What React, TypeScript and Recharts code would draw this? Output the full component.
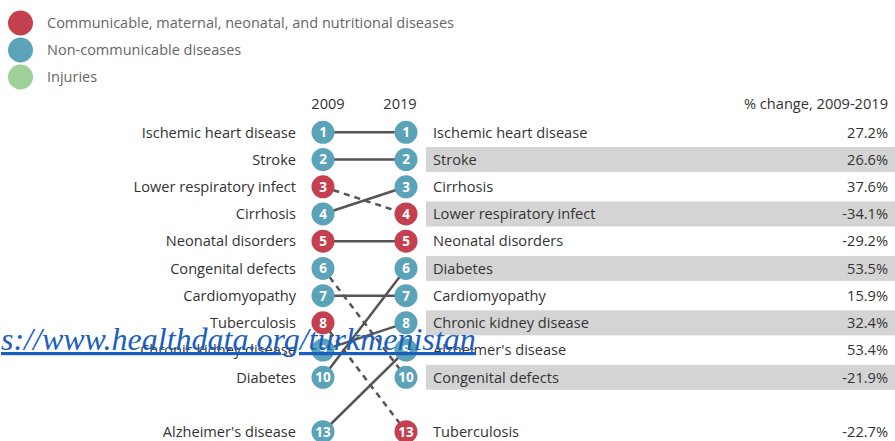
import { Legend, Scatter, ScatterChart, XAxis, YAxis } from "recharts";

// causes listed in 2009 rank order
const causes = [
	"Ischemic heart disease",
	"Stroke",
	"Lower respiratory infect",
	"Cirrhosis",
	"Neonatal disorders",
	"Congenital defects",
	"Cardiomyopathy",
	"Tuberculosis",
	"Chronic kidney disease",
	"Diabetes",
	"Alzheimer's disease",
];
const rank2009 = [1, 2, 3, 4, 5, 6, 7, 8, 9, 10, 13];
const rank2019 = [1, 2, 4, 3, 5, 10, 7, 13, 8, 6, 9];
const causeGroup = ["ncd", "ncd", "cmnn", "ncd", "cmnn", "ncd", "ncd", "cmnn", "ncd", "ncd", "ncd"];
const pctChange = [27.2, 26.6, -34.1, 37.6, -29.2, -21.9, 15.9, -22.7, 32.4, 53.5, 53.4];

const groups = ["cmnn", "ncd", "inj"];
const groupLabels = [
	"Communicable, maternal, neonatal, and nutritional diseases",
	"Non-communicable diseases",
	"Injuries",
];
const years = ["2009", "2019"];
const changeTitle = "% change, 2009-2019";
const linkText = "s://www.healthdata.org/turkmenistan";

const COLORS: Record<string, string> = { cmnn: "#c5404e", ncd: "#5ba3b8", inj: "#9fd09a" };
const W = 895;
const H = 441;
const X2009 = 323;
const X2019 = 406;
const ROW0 = 105.1;
const ROW_H = 27.22;
const FONT = "'Open Sans', sans-serif";
const FS = 14.6;

// ranks past 10 are shown after one empty row
const slot = (rank: number) => (rank <= 10 ? rank : rank - 1);

const nodes2009 = causes.map((name, i) => ({ x: X2009, y: slot(rank2009[i]), rank: rank2009[i], group: causeGroup[i], name, side: "left" }));
const nodes2019 = causes.map((name, i) => ({ x: X2019, y: slot(rank2019[i]), rank: rank2019[i], group: causeGroup[i], name, pct: pctChange[i], side: "right" }));
const headers = [
	{ x: X2009 + 5, y: 0, label: years[0], anchor: "middle" },
	{ x: X2019 - 6, y: 0, label: years[1], anchor: "middle" },
	{ x: W - 7, y: 0, label: changeTitle, anchor: "end" },
];

const Node = (p: any) => {
	const { cx, cy, payload } = p;
	return (
		<g>
			<circle cx={cx} cy={cy} r={11.5} fill={COLORS[payload.group]} />
			<text x={cx} y={cy} dy="0.36em" textAnchor="middle" fill="#fff" fontSize={13.5} fontWeight={700}>
				{payload.rank}
			</text>
			{payload.side === "left" && (
				<text x={cx - 27} y={cy} dy="0.36em" textAnchor="end" fill="#333" fontSize={FS}>
					{payload.name}
				</text>
			)}
		</g>
	);
};

const Row = (p: any) => {
	const { cx, cy, payload } = p;
	return (
		<g>
			{payload.rank % 2 === 0 && payload.rank <= 10 && (
				<rect x={cx + 20} y={cy - 12.5} width={W - cx - 20} height={25} fill="#d4d4d4" />
			)}
			<text x={cx + 27} y={cy} dy="0.36em" fill="#333" fontSize={FS}>
				{payload.name}
			</text>
			<text x={W - 7} y={cy} dy="0.36em" textAnchor="end" fill="#333" fontSize={FS}>
				{payload.pct.toFixed(1)}%
			</text>
		</g>
	);
};

const Header = (p: any) => (
	<text x={p.cx} y={p.cy} dy="0.3em" textAnchor={p.payload.anchor} fill="#333" fontSize={FS}>
		{p.payload.label}
	</text>
);

const LegendBox = () => (
	<div style={{ fontFamily: FONT }}>
		{groups.map((g, i) => (
			<div key={g} style={{ display: "flex", alignItems: "center", height: 27 }}>
				<svg width={26} height={26}>
					<circle cx={12.5} cy={13} r={12.5} fill={COLORS[g]} />
				</svg>
				<span style={{ marginLeft: 13, fontSize: 14.5, color: "#666" }}>{groupLabels[i]}</span>
			</div>
		))}
	</div>
);

const App = () => {
	return (
		<div style={{ position: "absolute", left: 0, top: 0, width: W, height: H, fontFamily: FONT }}>
			<ScatterChart width={W} height={H} margin={{ top: 0, right: 0, bottom: 0, left: 0 }} style={{ fontFamily: FONT }}>
				<XAxis type="number" dataKey="x" domain={[0, W]} hide />
				<YAxis type="number" dataKey="y" domain={[-ROW0 / ROW_H, (H - ROW0) / ROW_H]} reversed hide />
				<Legend
					layout="vertical"
					align="center"
					verticalAlign="middle"
					content={LegendBox}
					wrapperStyle={{ top: 9, left: 8, width: 480 }}
				/>
				<Scatter data={nodes2019} shape={Row} isAnimationActive={false} legendType="none" />
				{causes.map((c, i) => (
					<Scatter
						key={c}
						data={[nodes2009[i], nodes2019[i]]}
						line={{
							stroke: "#555",
							strokeWidth: 2.5,
							strokeDasharray: rank2019[i] > rank2009[i] ? "6 5" : undefined,
						}}
						shape={() => <g />}
						isAnimationActive={false}
						legendType="none"
					/>
				))}
				<Scatter data={nodes2009} shape={Node} isAnimationActive={false} legendType="none" />
				<Scatter data={nodes2019} shape={Node} isAnimationActive={false} legendType="none" />
				<Scatter data={headers} shape={Header} isAnimationActive={false} legendType="none" />
			</ScatterChart>
			<svg width={W} height={H} style={{ position: "absolute", left: 0, top: 0, pointerEvents: "none" }}>
				<a href="https://www.healthdata.org/turkmenistan">
					<text
						x={1}
						y={350}
						fontFamily="'Liberation Serif', serif"
						fontStyle="italic"
						fontSize={32}
						fill="#1a5fbf"
						textDecoration="underline"
					>
						{linkText}
					</text>
				</a>
			</svg>
		</div>
	);
};

export default App;
